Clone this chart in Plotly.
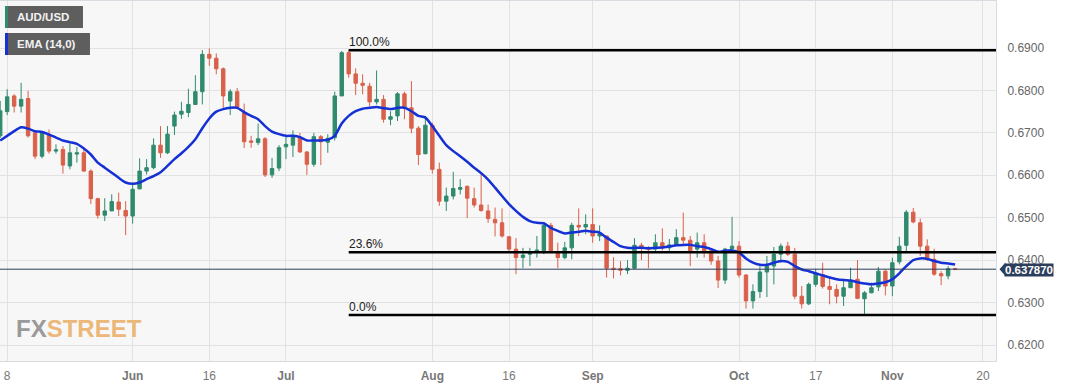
import pandas as pd
import plotly.graph_objects as go

# ---------------- data ----------------
dates = list(pd.bdate_range("2023-05-05", periods=138))
axis_dates = list(pd.bdate_range("2023-05-05", "2023-11-24"))

opens = [0.6693,0.6750,0.6787,0.6763,0.6781,0.6700,0.6645,0.6697,0.6657,0.6661,0.6622,0.6650,0.6653,0.6610,0.6545,0.6506,0.6516,0.6537,0.6517,0.6504,
         0.6568,0.6610,0.6618,0.6671,0.6653,0.6716,0.6744,0.6748,0.6767,0.6797,0.6885,0.6876,0.6851,0.6775,0.6797,0.6748,0.6681,0.6677,0.6686,0.6601,
         0.6617,0.6667,0.6671,0.6690,0.6655,0.6626,0.6691,0.6678,0.6689,0.6787,0.6889,0.6839,0.6817,0.6810,0.6773,0.6779,0.6732,0.6740,0.6792,0.6759,
         0.6711,0.6651,0.6718,0.6614,0.6539,0.6551,0.6567,0.6574,0.6545,0.6530,0.6516,0.6496,0.6488,0.6455,0.6426,0.6406,0.6414,0.6418,0.6422,0.6482,
         0.6420,0.6406,0.6429,0.6482,0.6478,0.6484,0.6457,0.6457,0.6381,0.6380,0.6376,0.6381,0.6435,0.6428,0.6426,0.6441,0.6429,0.6437,0.6453,0.6447,
         0.6426,0.6441,0.6422,0.6398,0.6353,0.6427,0.6433,0.6365,0.6304,0.6326,0.6372,0.6386,0.6414,0.6433,0.6414,0.6315,0.6297,0.6343,0.6366,0.6338,
         0.6331,0.6315,0.6335,0.6355,0.6309,0.6323,0.6337,0.6374,0.6339,0.6396,0.6435,0.6513,0.6488,0.6433,0.6402,0.6368,0.6363,0.6380]
highs = [0.6775,0.6803,0.6791,0.6818,0.6799,0.6704,0.6704,0.6708,0.6673,0.6669,0.6674,0.6667,0.6664,0.6614,0.6547,0.6546,0.6555,0.6559,0.6539,0.6579,
         0.6640,0.6638,0.6687,0.6716,0.6716,0.6750,0.6773,0.6804,0.6836,0.6895,0.6899,0.6887,0.6854,0.6803,0.6806,0.6769,0.6693,0.6722,0.6690,0.6641,
         0.6671,0.6693,0.6706,0.6700,0.6657,0.6700,0.6695,0.6697,0.6797,0.6893,0.6895,0.6852,0.6838,0.6818,0.6847,0.6789,0.6751,0.6796,0.6797,0.6822,
         0.6716,0.6740,0.6724,0.6630,0.6571,0.6608,0.6591,0.6576,0.6571,0.6604,0.6531,0.6524,0.6522,0.6457,0.6452,0.6429,0.6429,0.6457,0.6488,0.6488,
         0.6441,0.6443,0.6488,0.6522,0.6508,0.6522,0.6482,0.6457,0.6407,0.6398,0.6400,0.6452,0.6441,0.6433,0.6461,0.6475,0.6450,0.6473,0.6512,0.6457,
         0.6465,0.6461,0.6426,0.6410,0.6429,0.6502,0.6445,0.6367,0.6343,0.6386,0.6410,0.6431,0.6439,0.6443,0.6429,0.6339,0.6347,0.6380,0.6394,0.6359,
         0.6343,0.6355,0.6382,0.6400,0.6327,0.6347,0.6384,0.6378,0.6406,0.6455,0.6518,0.6523,0.6498,0.6449,0.6427,0.6374,0.6386,0.6382]
lows = [0.6688,0.6742,0.6748,0.6748,0.6689,0.6638,0.6640,0.6651,0.6651,0.6604,0.6614,0.6630,0.6608,0.6532,0.6498,0.6492,0.6516,0.6504,0.6459,0.6486,
        0.6567,0.6602,0.6614,0.6641,0.6650,0.6695,0.6733,0.6737,0.6766,0.6767,0.6858,0.6838,0.6759,0.6742,0.6756,0.6664,0.6665,0.6671,0.6596,0.6594,
        0.6610,0.6638,0.6643,0.6653,0.6601,0.6620,0.6624,0.6653,0.6682,0.6787,0.6830,0.6789,0.6791,0.6763,0.6767,0.6724,0.6718,0.6728,0.6732,0.6699,
        0.6624,0.6649,0.6604,0.6528,0.6516,0.6543,0.6555,0.6499,0.6524,0.6514,0.6488,0.6456,0.6453,0.6418,0.6367,0.6381,0.6386,0.6406,0.6414,0.6418,
        0.6381,0.6402,0.6402,0.6457,0.6461,0.6441,0.6445,0.6359,0.6357,0.6364,0.6367,0.6378,0.6400,0.6381,0.6418,0.6423,0.6420,0.6433,0.6437,0.6386,
        0.6406,0.6406,0.6389,0.6334,0.6344,0.6422,0.6359,0.6286,0.6286,0.6311,0.6313,0.6343,0.6394,0.6410,0.6308,0.6286,0.6294,0.6337,0.6333,0.6296,
        0.6298,0.6292,0.6335,0.6308,0.6271,0.6322,0.6327,0.6317,0.6315,0.6390,0.6421,0.6487,0.6410,0.6398,0.6363,0.6341,0.6355,0.6376]
closes = [0.6752,0.6785,0.6763,0.6779,0.6693,0.6645,0.6700,0.6657,0.6660,0.6624,0.6653,0.6653,0.6610,0.6545,0.6506,0.6516,0.6538,0.6520,0.6504,0.6567,
          0.6610,0.6618,0.6671,0.6653,0.6697,0.6742,0.6751,0.6767,0.6797,0.6885,0.6876,0.6851,0.6787,0.6797,0.6761,0.6679,0.6678,0.6686,0.6601,0.6616,
          0.6665,0.6673,0.6690,0.6655,0.6626,0.6691,0.6679,0.6687,0.6787,0.6889,0.6839,0.6817,0.6812,0.6773,0.6779,0.6732,0.6738,0.6792,0.6761,0.6711,
          0.6649,0.6718,0.6614,0.6539,0.6551,0.6569,0.6571,0.6546,0.6530,0.6517,0.6498,0.6488,0.6457,0.6426,0.6406,0.6412,0.6416,0.6424,0.6482,0.6420,
          0.6406,0.6429,0.6482,0.6478,0.6484,0.6457,0.6462,0.6381,0.6378,0.6376,0.6381,0.6435,0.6428,0.6426,0.6441,0.6429,0.6436,0.6453,0.6447,0.6422,
          0.6441,0.6422,0.6398,0.6353,0.6426,0.6433,0.6365,0.6304,0.6326,0.6372,0.6386,0.6414,0.6433,0.6414,0.6315,0.6297,0.6343,0.6368,0.6338,0.6331,
          0.6315,0.6335,0.6352,0.6310,0.6323,0.6335,0.6374,0.6339,0.6394,0.6433,0.6513,0.6490,0.6433,0.6402,0.6367,0.6363,0.6380,0.63787]
ema14 = [0.6682,0.6693,0.6704,0.6713,0.6710,0.6704,0.6702,0.6696,0.6689,0.6682,0.6678,0.6674,0.6663,0.6649,0.6630,0.6618,0.6606,0.6594,0.6583,0.6580,
         0.6583,0.6591,0.6598,0.6607,0.6622,0.6638,0.6652,0.6667,0.6685,0.6711,0.6734,0.6750,0.6756,0.6759,0.6759,0.6749,0.6740,0.6732,0.6716,0.6703,
         0.6697,0.6693,0.6693,0.6690,0.6682,0.6682,0.6682,0.6684,0.6693,0.6722,0.6740,0.6751,0.6757,0.6759,0.6761,0.6758,0.6756,0.6759,0.6759,0.6751,
         0.6740,0.6736,0.6716,0.6693,0.6671,0.6657,0.6645,0.6632,0.6618,0.6605,0.6590,0.6571,0.6551,0.6532,0.6516,0.6502,0.6492,0.6488,0.6487,0.6476,
         0.6469,0.6463,0.6465,0.6467,0.6469,0.6467,0.6465,0.6453,0.6443,0.6433,0.6429,0.6429,0.6429,0.6428,0.6429,0.6430,0.6432,0.6435,0.6436,0.6436,
         0.6433,0.6431,0.6426,0.6420,0.6422,0.6423,0.6418,0.6404,0.6394,0.6389,0.6389,0.6394,0.6398,0.6396,0.6386,0.6378,0.6374,0.6369,0.6364,0.6359,
         0.6355,0.6353,0.6352,0.6348,0.6345,0.6343,0.6345,0.6348,0.6355,0.6369,0.6386,0.6400,0.6404,0.6403,0.6398,0.6394,0.6392,0.6390]

fib_levels = [0.6895, 0.64185, 0.6271]
fib_labels = ["100.0%", "23.6%", "0.0%"]
fib_start = "2023-07-14"
last_price = 0.637870

tick_dates = ["2023-05-08","2023-06-01","2023-06-16","2023-07-03","2023-08-01","2023-08-16",
              "2023-09-01","2023-10-02","2023-10-17","2023-11-01","2023-11-20"]
tick_labels = ["8","<b>Jun</b>","16","<b>Jul</b>","<b>Aug</b>","16","<b>Sep</b>","<b>Oct</b>","17","<b>Nov</b>","20"]
y_ticks = [0.62,0.63,0.64,0.65,0.66,0.67,0.68,0.69]

# ---------------- positions (trading-day index) ----------------
pos_of = {d.strftime("%Y-%m-%d"): i for i, d in enumerate(axis_dates)}
xpos = [pos_of[d.strftime("%Y-%m-%d")] for d in dates]
tick_pos = [pos_of[d] for d in tick_dates]
fib_x0 = pos_of[fib_start]

GREEN = "#2f8a6e"
RED = "#d9604a"
FONT = "Liberation Sans, Arial, sans-serif"

fig = go.Figure()
fig.add_trace(go.Candlestick(
    x=xpos, open=opens, high=highs, low=lows, close=closes,
    increasing=dict(line=dict(color=GREEN, width=1), fillcolor=GREEN),
    decreasing=dict(line=dict(color=RED, width=1), fillcolor=RED),
    whiskerwidth=0, showlegend=False, hoverinfo="skip"))
fig.add_trace(go.Scatter(x=xpos, y=ema14, mode="lines", line=dict(color="#1530d4", width=2.5, shape="spline", smoothing=0.6),
                         showlegend=False, hoverinfo="skip"))

XMAX = 142.87
# fibonacci lines
for lvl, lab in zip(fib_levels, fib_labels):
    fig.add_trace(go.Scatter(x=[fib_x0, XMAX], y=[lvl, lvl], mode="lines", line=dict(color="#000000", width=2.5),
                             showlegend=False, hoverinfo="skip"))
    fig.add_annotation(x=fib_x0, y=lvl, xref="x", yref="y", text=lab, showarrow=False, xanchor="left",
                       yanchor="bottom", xshift=-2, yshift=-1, font=dict(family=FONT, size=12, color="#222"))

# current price line + label
fig.add_shape(type="line", xref="paper", yref="y", x0=0, x1=1, y0=last_price, y1=last_price,
              line=dict(color="#2c3e5c", width=1))
fig.add_shape(type="path", xref="paper", yref="y",
              path=f"M 1.0035 {last_price} L 1.0095 {last_price+0.0016} L 1.0095 {last_price-0.0016} Z",
              fillcolor="#2c3e5c", line=dict(width=0))
fig.add_annotation(x=1, y=last_price, xref="paper", yref="y", xanchor="left", xshift=8, yshift=-1, showarrow=False,
                   text=f"<b>{last_price:.6f}</b>", bgcolor="#2c3e5c", borderpad=0,
                   font=dict(family=FONT, size=11.5, color="white"))

# legend boxes
H = 360.0
def py(p):
    return 1 - p / H
W = 996.3
def px(p):
    return p / W
fig.add_shape(type="rect", xref="paper", yref="paper", x0=px(5), x1=px(83), y0=py(27), y1=py(5),
              fillcolor="#5e5e5e", line=dict(width=0))
fig.add_shape(type="rect", xref="paper", yref="paper", x0=px(5), x1=px(8), y0=py(27), y1=py(5),
              fillcolor=GREEN, line=dict(width=0))
fig.add_annotation(x=px(15), y=py(16), xref="paper", yref="paper", xanchor="left", yanchor="middle",
                   text="<b>AUD/USD</b>", showarrow=False, font=dict(family=FONT, size=11.5, color="#f2f2f2"))
fig.add_shape(type="rect", xref="paper", yref="paper", x0=px(5), x1=px(90), y0=py(54), y1=py(32),
              fillcolor="#5e5e5e", line=dict(width=0))
fig.add_shape(type="rect", xref="paper", yref="paper", x0=px(5), x1=px(8), y0=py(54), y1=py(32),
              fillcolor="#1530d4", line=dict(width=0))
fig.add_annotation(x=px(15), y=py(43), xref="paper", yref="paper", xanchor="left", yanchor="middle",
                   text="<b>EMA (14,0)</b>", showarrow=False, font=dict(family=FONT, size=11.5, color="#f2f2f2"))

# watermark
fig.add_annotation(x=px(14), y=py(327), xref="paper", yref="paper", xanchor="left", yanchor="middle",
                   text="<b><span style='color:#9a9a9a'>FX</span><span style='color:#ecb87a'>STREET</span></b>",
                   showarrow=False, font=dict(family="Liberation Sans, Arial, sans-serif", size=24))

fig.update_layout(
    width=1067, height=386,
    margin=dict(l=0, r=1067 - 996.3, t=1, b=25),
    paper_bgcolor="white", plot_bgcolor="#f7f7f7",
    xaxis=dict(range=[-0.03, XMAX], tickmode="array", tickvals=tick_pos, ticktext=tick_labels,
               showgrid=True, gridcolor="#e2e2e2", gridwidth=1, zeroline=False,
               rangeslider=dict(visible=False), ticks="", ticklabelstandoff=4,
               tickfont=dict(family=FONT, size=12, color="#777"),
               showline=True, linecolor="#d8dbe0", mirror=True),
    yaxis=dict(range=[0.61623, 0.70108], side="right", tickmode="array", tickvals=y_ticks,
               tickformat=".4f", showgrid=True, gridcolor="#e2e2e2", zeroline=False, ticks="",
               ticklabelstandoff=8, tickfont=dict(family=FONT, size=12, color="#666"),
               showline=True, linecolor="#d8dbe0", mirror=True),
    hovermode=False,
)

fig.write_html("out.html")
